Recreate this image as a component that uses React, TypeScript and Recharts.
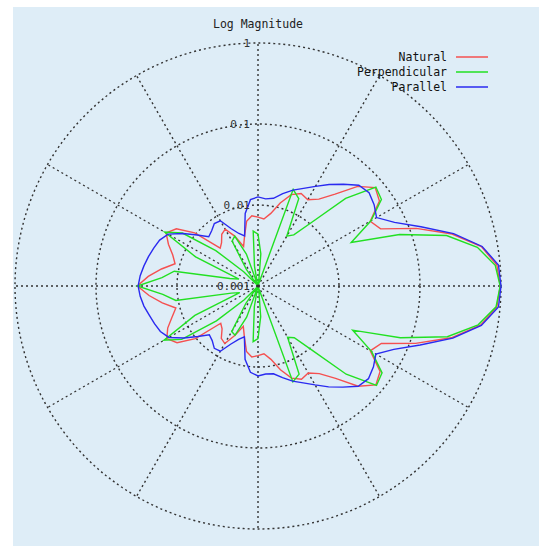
import {
  RadarChart,
  Radar,
  PolarGrid,
  PolarAngleAxis,
  PolarRadiusAxis,
  Legend,
} from "recharts";

// angle in degrees, counter-clockwise from east
const ANGLES = [
  0, 5, 10, 15, 20, 25, 30, 35, 40, 45, 50, 55, 60, 65, 70, 75, 80, 85, 90,
  95, 100, 105, 110, 115, 120, 125, 130, 135, 140, 145, 150, 155, 160, 165,
  170, 175, 180, 185, 190, 195, 200, 205, 210, 215, 220, 225, 230, 235, 240,
  245, 250, 255, 260, 265, 270, 275, 280, 285, 290, 295, 300, 305, 310, 315,
  320, 325, 330, 335, 340, 345, 350, 355,
];

// log10 of magnitude
const NATURAL = [
  -0.01, -0.04, -0.2, -0.52, -0.92, -1.33, -1.4, -1.17, -1.11, -1.26, -1.52,
  -1.69, -1.77, -1.74, -1.8, -1.94, -2.09, -2.17, -2.15, -2.13, -2.19, -2.36,
  -2.48, -2.32, -2.19, -2.22, -2.3, -2.34, -1.98, -1.77, -1.69, -1.78, -1.88,
  -1.94, -1.79, -1.64, -1.51,
  -1.65, -1.8, -1.95, -1.87, -1.77, -1.7, -1.78, -1.99, -2.35, -2.31, -2.21,
  -2.18, -2.33, -2.47, -2.35, -2.18, -2.12, -2.14, -2.16, -2.08, -1.93, -1.79,
  -1.73, -1.76, -1.68, -1.51, -1.25, -1.1, -1.16, -1.4, -1.32, -0.93, -0.53,
  -0.21, -0.04,
];

const PERPENDICULAR = [
  -0.01, -0.06, -0.25, -0.59, -1.14, -1.73, -1.39, -1.14, -1.1, -1.47, -1.98,
  -2.23, -2.29, -1.81, -1.73, -2.98, -2.95, -2.6, -2.36, -2.32, -2.75, -2.98,
  -2.58, -2.32, -2.36, -2.75, -2.98, -2.75, -2.32, -1.86, -1.67, -2.15, -2.75,
  -2.64, -1.95, -1.81, -1.51,
  -1.82, -1.97, -2.66, -2.76, -2.14, -1.66, -1.85, -2.33, -2.76, -2.98, -2.74,
  -2.35, -2.33, -2.59, -2.98, -2.74, -2.31, -2.35, -2.62, -2.94, -2.98, -1.74,
  -1.8, -2.27, -2.22, -1.97, -1.46, -1.09, -1.13, -1.38, -1.71, -1.13, -0.58,
  -0.24, -0.05,
];

const PARALLEL = [
  0.0, -0.02, -0.19, -0.5, -0.86, -1.14, -1.31, -1.25, -1.21, -1.24, -1.36,
  -1.47, -1.58, -1.67, -1.74, -1.82, -1.9, -1.92, -1.9, -1.93, -2.09, -2.36,
  -2.31, -2.22, -2.07, -2.06, -2.11, -2.14, -2.02, -1.87, -1.72, -1.66, -1.63,
  -1.6, -1.57, -1.54, -1.52,
  -1.54, -1.57, -1.61, -1.64, -1.67, -1.73, -1.88, -2.03, -2.15, -2.12, -2.06,
  -2.07, -2.21, -2.3, -2.35, -2.08, -1.93, -1.89, -1.91, -1.9, -1.83, -1.75,
  -1.68, -1.59, -1.48, -1.37, -1.25, -1.22, -1.26, -1.32, -1.15, -0.87, -0.51,
  -0.2, -0.02,
];

const RADIUS_TICKS = [-3, -2, -1, 0];
const RADIUS_LABELS = ["0.001", "0.01", "0.1", "1"];
const SPOKES = [0, 30, 60, 90, 120, 150, 180, 210, 240, 270, 300, 330];
const LEGEND_ORDER = ["Natural", "Perpendicular", "Parallel"];

const data = ANGLES.map((a, i) => ({
  angle: a,
  natural: NATURAL[i],
  perpendicular: PERPENDICULAR[i],
  parallel: PARALLEL[i],
}));

const MONO = "'DejaVu Sans Mono', 'Liberation Mono', monospace";

function RadiusTick(props: any) {
  const { x, y, payload } = props;
  const idx = RADIUS_TICKS.indexOf(payload.value);
  return (
    <text
      x={x - 8}
      y={y}
      textAnchor="end"
      dominantBaseline="central"
      fontFamily={MONO}
      fontSize={11}
      fill="#333"
    >
      {idx >= 0 ? RADIUS_LABELS[idx] : ""}
    </text>
  );
}

function LegendBox(props: any) {
  const items = [...(props.payload ?? [])].sort(
    (a: any, b: any) =>
      LEGEND_ORDER.indexOf(a.value) - LEGEND_ORDER.indexOf(b.value)
  );
  return (
    <div>
      {items.map((it: any) => (
        <div
          key={it.value}
          style={{
            display: "flex",
            justifyContent: "flex-end",
            alignItems: "center",
            height: 15,
          }}
        >
          <span style={{ fontFamily: MONO, fontSize: 11.5, color: "#111" }}>
            {it.value}
          </span>
          <svg width={32} height={4} style={{ marginLeft: 9 }}>
            <line x1={0} y1={2} x2={32} y2={2} stroke={it.color} strokeWidth={1.5} />
          </svg>
        </div>
      ))}
    </div>
  );
}

export default function App() {
  return (
    <div
      style={{
        position: "absolute",
        left: 0,
        top: 0,
        width: 539,
        height: 546,
        background: "#fff",
      }}
    >
      <div
        style={{
          position: "absolute",
          left: 13,
          top: 7,
          width: 526,
          height: 539,
          background: "#deedf7",
        }}
      >
        <div
          style={{
            position: "absolute",
            left: 0,
            top: 10,
            width: 490,
            textAlign: "center",
            fontFamily: MONO,
            fontSize: 11.5,
            color: "#222",
          }}
        >
          Log Magnitude
        </div>
        <RadarChart
          width={526}
          height={539}
          data={data}
          cx={245}
          cy={279}
          innerRadius={0}
          outerRadius={243}
          startAngle={0}
          endAngle={360}
        >
          <PolarGrid
            gridType="circle"
            polarAngles={SPOKES}
            stroke="#333"
            strokeWidth={1.4}
            strokeDasharray="2 3"
          />
          <PolarAngleAxis
            dataKey="angle"
            type="number"
            domain={[0, 360]}
            tick={false}
            axisLine={false}
            tickLine={false}
          />
          <PolarRadiusAxis
            type="number"
            domain={[-3, 0]}
            tickCount={4}
            angle={90}
            axisLine={false}
            tickLine={false}
            tick={RadiusTick}
          />
          <Radar
            name="Natural"
            dataKey="natural"
            stroke="#f55050"
            strokeWidth={1.4}
            fill="none"
            fillOpacity={0}
            dot={false}
            isAnimationActive={false}
          />
          <Radar
            name="Perpendicular"
            dataKey="perpendicular"
            stroke="#22e022"
            strokeWidth={1.4}
            fill="none"
            fillOpacity={0}
            dot={false}
            isAnimationActive={false}
          />
          <Radar
            name="Parallel"
            dataKey="parallel"
            stroke="#2a2af0"
            strokeWidth={1.4}
            fill="none"
            fillOpacity={0}
            dot={false}
            isAnimationActive={false}
          />
          <Legend
            content={LegendBox}
            wrapperStyle={{ position: "absolute", top: 42, left: 315, width: 160 }}
          />
        </RadarChart>
      </div>
    </div>
  );
}
